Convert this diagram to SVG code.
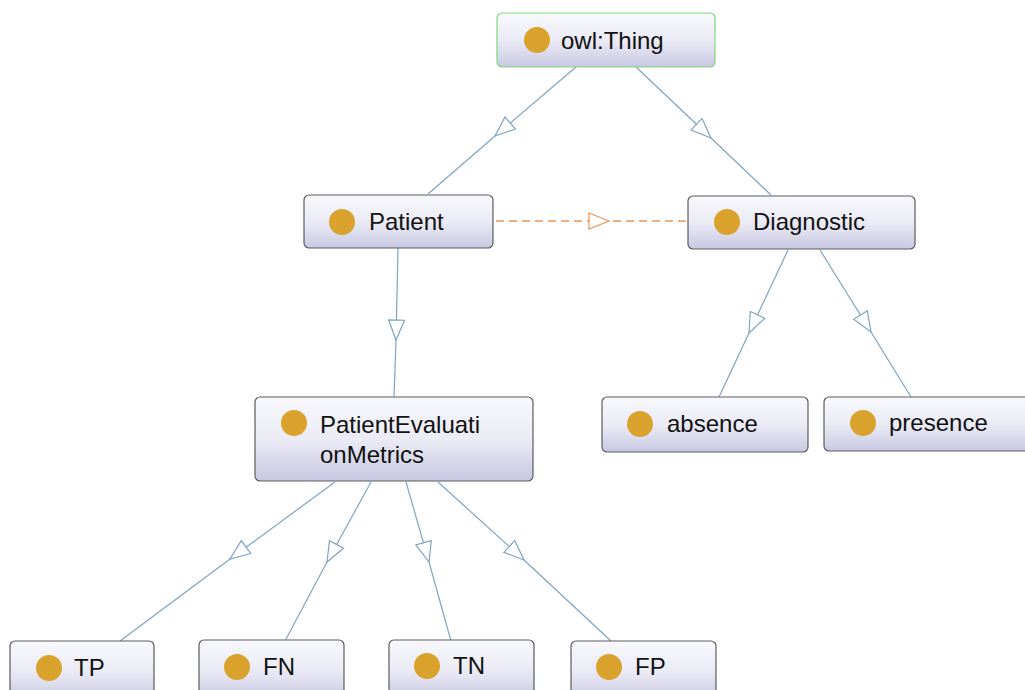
<svg xmlns="http://www.w3.org/2000/svg" width="1025" height="690" viewBox="0 0 1025 690">
<defs>
<linearGradient id="g" x1="0" y1="0" x2="0" y2="1">
<stop offset="0" stop-color="#f8f8fd"/>
<stop offset="0.5" stop-color="#ebebf6"/>
<stop offset="1" stop-color="#c8c8e2"/>
</linearGradient>
<marker id="tri" viewBox="0 0 22 18" refX="21" refY="9" markerWidth="22" markerHeight="18" markerUnits="userSpaceOnUse" orient="auto">
<path d="M1,1 L21,9 L1,17 Z" fill="#ffffff" stroke="#7ea4c6" stroke-width="1.2"/>
</marker>
<marker id="triO" viewBox="0 0 22 18" refX="21" refY="9" markerWidth="22" markerHeight="18" markerUnits="userSpaceOnUse" orient="auto">
<path d="M1,1 L21,9 L1,17 Z" fill="#ffffff" stroke="#e8975a" stroke-width="1.2"/>
</marker>
</defs>
<style>
.box{fill:url(#g);stroke:#5c5c5c;stroke-width:1.2}
.root{stroke:#7fd67f}
.dot{fill:#d9a22c}
.lbl{font-family:"Liberation Sans",Arial,sans-serif;font-size:24px;fill:#111}
.e{fill:none;stroke:#7ea4c6;stroke-width:1.2;marker-mid:url(#tri)}
.d{fill:none;stroke:#e8975a;stroke-width:1.3;stroke-dasharray:8 5;marker-mid:url(#triO)}
</style>
<rect width="1025" height="690" fill="#ffffff"/>
<g id="connectors">
<polyline class="e" points="576,67 495,136 428,194"/>
<polyline class="e" points="636,67 711,138 771,195"/>
<polyline class="e" points="398,248 396,340 394,397"/>
<polyline class="d" points="496,221 609,221 686,221"/>
<polyline class="e" points="788,250 749,333 719,397"/>
<polyline class="e" points="820,250 871,332 911,397"/>
<polyline class="e" points="335,482 230,559 120,641"/>
<polyline class="e" points="371,482 327,562 285,641"/>
<polyline class="e" points="406,482 429,562 451,641"/>
<polyline class="e" points="438,482 524,560 611,641"/>
</g>
<g id="owl-Thing">
<rect class="box root" x="497" y="13" width="218" height="54" rx="5"/>
<circle class="dot" cx="537" cy="40" r="13"/>
<text class="lbl" x="561" y="49">owl:Thing</text>
</g>
<g id="Patient">
<rect class="box" x="304" y="195" width="189" height="53" rx="5"/>
<circle class="dot" cx="342" cy="222" r="13"/>
<text class="lbl" x="369" y="230">Patient</text>
</g>
<g id="Diagnostic">
<rect class="box" x="688" y="196" width="227" height="53" rx="5"/>
<circle class="dot" cx="727" cy="222" r="13"/>
<text class="lbl" x="753" y="230">Diagnostic</text>
</g>
<g id="PatientEvaluationMetrics">
<rect class="box" x="255" y="397" width="278" height="84" rx="5"/>
<circle class="dot" cx="294" cy="423" r="13"/>
<text class="lbl" x="320" y="433">PatientEvaluati</text>
<text class="lbl" x="320" y="463">onMetrics</text>
</g>
<g id="absence">
<rect class="box" x="602" y="397" width="206" height="55" rx="5"/>
<circle class="dot" cx="640" cy="424" r="13"/>
<text class="lbl" x="667" y="432">absence</text>
</g>
<g id="presence">
<rect class="box" x="824" y="397" width="210" height="54" rx="5"/>
<circle class="dot" cx="863" cy="423" r="13"/>
<text class="lbl" x="889" y="431">presence</text>
</g>
<g id="TP">
<rect class="box" x="10" y="641" width="144" height="60" rx="5"/>
<circle class="dot" cx="49" cy="668" r="13"/>
<text class="lbl" x="74" y="676">TP</text>
</g>
<g id="FN">
<rect class="box" x="199" y="640" width="145" height="60" rx="5"/>
<circle class="dot" cx="237" cy="667" r="13"/>
<text class="lbl" x="263" y="675">FN</text>
</g>
<g id="TN">
<rect class="box" x="389" y="640" width="145" height="60" rx="5"/>
<circle class="dot" cx="427" cy="666" r="13"/>
<text class="lbl" x="453" y="674">TN</text>
</g>
<g id="FP">
<rect class="box" x="571" y="641" width="145" height="60" rx="5"/>
<circle class="dot" cx="609" cy="667" r="13"/>
<text class="lbl" x="635" y="675">FP</text>
</g>
</svg>
